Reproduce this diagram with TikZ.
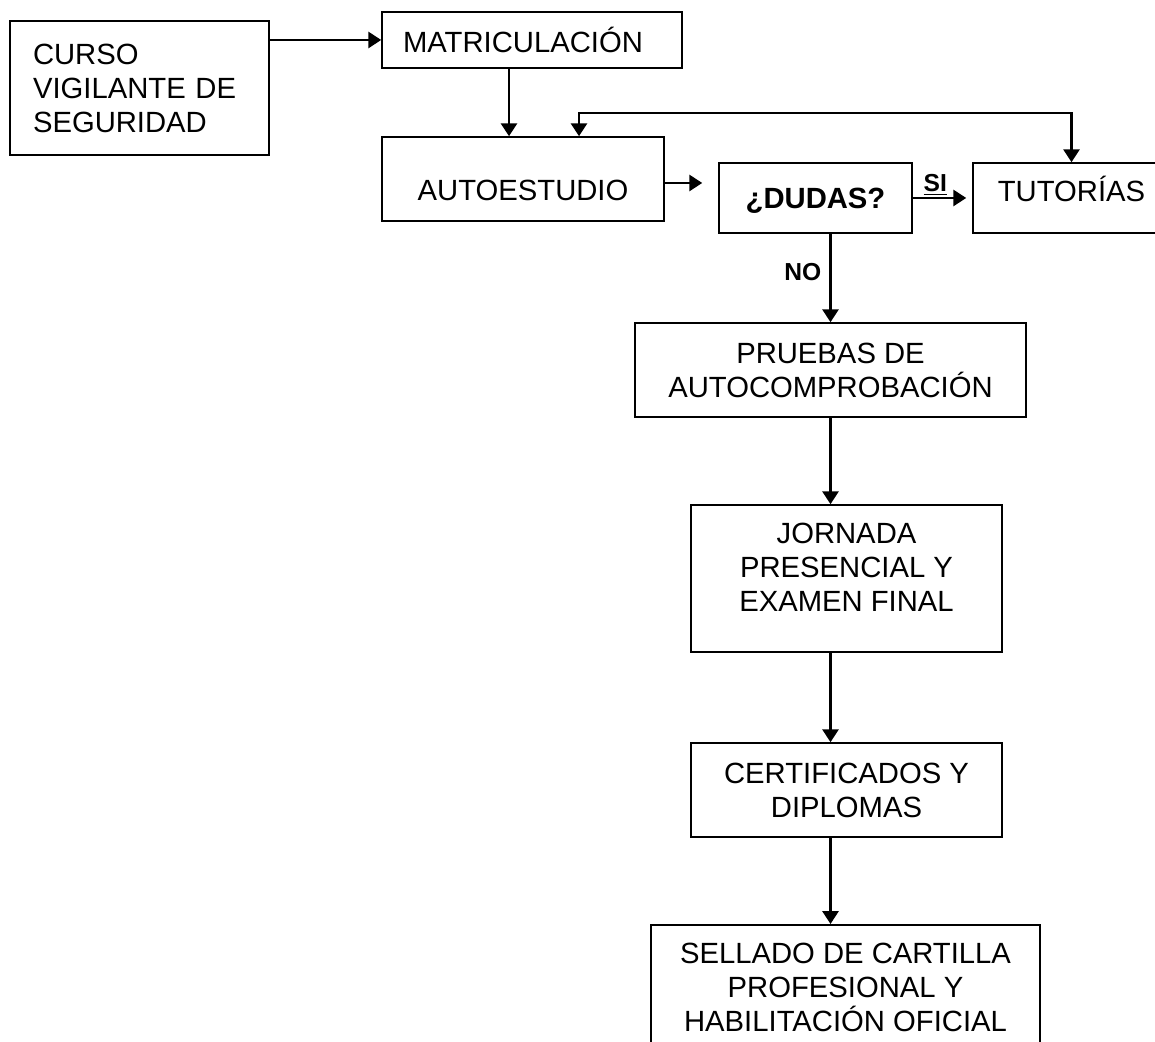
\documentclass[tikz,border=0pt]{standalone}
\usepackage{fontspec}
\setmainfont{Liberation Sans}
\usetikzlibrary{arrows.meta}

\tikzset{
	box/.style={draw, line width=1.1pt, inner sep=0pt, align=center},
	arr/.style={line width=1.7pt, -{Triangle[length=0.32cm,width=0.4cm]}},
	both/.style={line width=1.7pt, {Triangle[length=0.32cm,width=0.4cm]}-{Triangle[length=0.32cm,width=0.4cm]}},
	lbl/.style={font=\fontsize{17.5pt}{19pt}\selectfont\bfseries},
}

\begin{document}
\begin{tikzpicture}[font=\fontsize{20.8pt}{24.2pt}\selectfont]
	\useasboundingbox (0, 0) rectangle (28.875, 26.05);

	\node[box, minimum width=6.475cm, minimum height=3.35cm, text width=5.325cm, align=left] (curso) at (3.4875, 23.85) {CURSO\\VIGILANTE DE\\SEGURIDAD};
	\node[box, minimum width=7.5cm, minimum height=1.4cm, text width=6.45cm, align=left] (matric) at (13.3, 25.05) {MATRICULACIÓN};
	\node[box, minimum width=7.05cm, minimum height=2.1cm, text height=1.07cm, text depth=0cm] (auto) at (13.075, 21.575) {AUTOESTUDIO};
	\node[box, minimum width=4.825cm, minimum height=1.75cm, text height=0.52cm, text depth=0cm, font=\fontsize{20.8pt}{24.2pt}\selectfont\bfseries] (dudas) at (20.3875, 21.1) {¿DUDAS?};
	\node[box, minimum width=4.925cm, minimum height=1.75cm, text height=0.7cm, text depth=0.53cm] (tut) at (26.7875, 21.1) {TUTORÍAS};
	\node[box, minimum width=9.775cm, minimum height=2.35cm] (pruebas) at (20.7625, 16.8) {PRUEBAS DE\\AUTOCOMPROBACIÓN};
	\node[box, minimum width=7.775cm, minimum height=3.675cm, text depth=0.55cm] (jornada) at (21.1625, 11.5875) {JORNADA\\PRESENCIAL Y\\EXAMEN FINAL};
	\node[box, minimum width=7.775cm, minimum height=2.35cm] (cert) at (21.1625, 6.3) {CERTIFICADOS Y\\DIPLOMAS};
	\node[box, anchor=north, minimum width=9.725cm, inner ysep=0.45cm, text depth=1cm] (sellado) at (21.1375, 2.95) {SELLADO DE CARTILLA\\PROFESIONAL Y\\HABILITACIÓN OFICIAL};

	\coordinate (a2d) at ([yshift=-0.1cm]auto.east);

	\draw[arr] (curso.east |- matric.west) -- (matric.west);
	\draw[arr] ([xshift=-0.575cm]matric.south) -- ([xshift=-0.575cm]matric.south |- auto.north);
	\draw[arr] (a2d) -- ([xshift=-0.4cm]dudas.west |- a2d);
	\draw[arr] (dudas.east) -- ([xshift=-0.15cm]tut.west) node[pos=0.42, above, inner sep=1.5pt, lbl] {\underline{SI}};
	\draw[arr] (dudas.south -| pruebas.north) -- (pruebas.north) node[pos=0.43, left, inner sep=0.2cm, lbl] {NO};
	\draw[both] ([xshift=1.4cm]auto.north) -- ++(0, 0.575) -| (tut.north);
	\draw[arr] (pruebas.south) -- (pruebas.south |- jornada.north);
	\draw[arr] (jornada.south -| pruebas.south) -- (cert.north -| pruebas.south);
	\draw[arr] (cert.south -| pruebas.south) -- (sellado.north -| pruebas.south);

\end{tikzpicture}
\end{document}
